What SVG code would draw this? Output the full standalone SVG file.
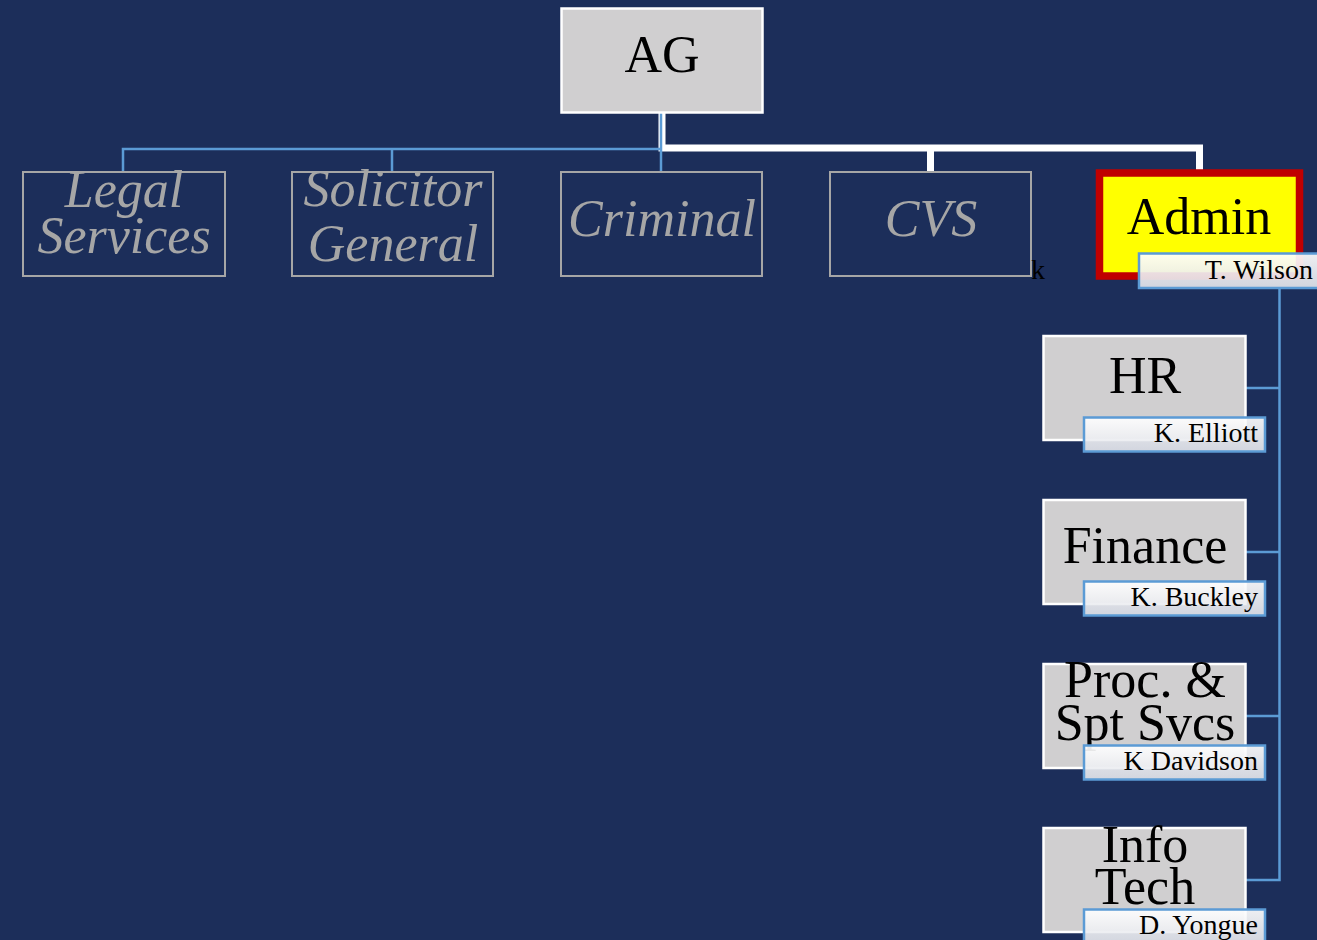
<svg xmlns="http://www.w3.org/2000/svg" width="1317" height="940" viewBox="0 0 1317 940">
  <defs>
    <linearGradient id="tagFill" x1="0" y1="0" x2="0" y2="1">
      <stop offset="0" stop-color="#ffffff" stop-opacity="0.92"/>
      <stop offset="1" stop-color="#e2e4ea" stop-opacity="0.92"/>
    </linearGradient>
    <style>
      .solid { fill: #d0cfd0; stroke: #ffffff; stroke-width: 2.5; }
      .ghost { fill: none; stroke: #a6a6a6; stroke-width: 2; }
      .ghostText { font-family: "Liberation Serif", "Times New Roman", serif; font-style: italic; font-size: 52px; fill: #a6a6a6; text-anchor: middle; }
      .name { font-family: "Liberation Serif", "Times New Roman", serif; font-size: 52px; fill: #000000; text-anchor: middle; }
      .tag { fill: url(#tagFill); stroke: #5b9bd5; stroke-width: 2.5; }
      .tagText { font-family: "Liberation Serif", "Times New Roman", serif; font-size: 28px; fill: #000000; text-anchor: end; }
      .thin { fill: none; stroke: #5b9bd5; stroke-width: 2.5; }
      .thick { fill: none; stroke: #ffffff; stroke-width: 7; stroke-linejoin: miter; }
    </style>
  </defs>

  <rect width="1317" height="940" fill="#1c2e5a"/>

  <!-- connectors -->
  <g id="connectors">
    <path class="thick" d="M662 113 V148 H1199.5 V170"/>
    <path class="thick" d="M930.5 148 V172"/>
    <path class="thin" d="M661 113 V172"/>
    <path class="thin" d="M661 149 H123 V172"/>
    <path class="thin" d="M392 149 V172"/>
    <path class="thin" d="M1279.5 288 V880 H1246"/>
    <path class="thin" d="M1246 388 H1279.5"/>
    <path class="thin" d="M1246 552 H1279.5"/>
    <path class="thin" d="M1246 716 H1279.5"/>
  </g>

  <!-- top -->
  <g id="node-ag">
    <rect class="solid" x="561.5" y="8.5" width="201" height="104"/>
    <text class="name" x="662" y="72">AG</text>
  </g>

  <!-- second level -->
  <g id="node-legal">
    <rect class="ghost" x="23" y="172" width="202" height="104"/>
    <text class="ghostText" x="124" y="207">Legal</text>
    <text class="ghostText" x="124" y="253">Services</text>
  </g>
  <g id="node-solicitor">
    <rect class="ghost" x="292" y="172" width="201" height="104"/>
    <text class="ghostText" x="393" y="206">Solicitor</text>
    <text class="ghostText" x="393" y="261">General</text>
  </g>
  <g id="node-criminal">
    <rect class="ghost" x="561" y="172" width="201" height="104"/>
    <text class="ghostText" x="662" y="236">Criminal</text>
  </g>
  <g id="node-cvs">
    <rect class="ghost" x="830" y="172" width="201" height="104"/>
    <text class="ghostText" x="931" y="236">CVS</text>
  </g>
  <text class="tagText" x="1045" y="279">k</text>

  <g id="node-admin">
    <rect x="1099.5" y="173" width="200" height="103" fill="#ffff00" stroke="#c00000" stroke-width="7.5"/>
    <text class="name" x="1199" y="234">Admin</text>
    <rect class="tag" x="1139" y="253.5" width="183" height="34.5"/>
    <text class="tagText" x="1313" y="279">T. Wilson</text>
  </g>

  <!-- admin units -->
  <g id="node-hr">
    <rect class="solid" x="1043.5" y="336" width="202" height="104"/>
    <text class="name" x="1145" y="393">HR</text>
    <rect class="tag" x="1084" y="417.5" width="181" height="34"/>
    <text class="tagText" x="1258" y="442">K. Elliott</text>
  </g>
  <g id="node-finance">
    <rect class="solid" x="1043.5" y="500" width="202" height="104"/>
    <text class="name" x="1145" y="563">Finance</text>
    <rect class="tag" x="1084" y="581.5" width="181" height="34"/>
    <text class="tagText" x="1258" y="606">K. Buckley</text>
  </g>
  <g id="node-proc">
    <rect class="solid" x="1043.5" y="664" width="202" height="104"/>
    <text class="name" x="1145" y="697">Proc. &amp;</text>
    <text class="name" x="1145" y="740">Spt Svcs</text>
    <rect class="tag" x="1084" y="745.5" width="181" height="34"/>
    <text class="tagText" x="1258" y="770">K Davidson</text>
  </g>
  <g id="node-it">
    <rect class="solid" x="1043.5" y="828" width="202" height="104"/>
    <text class="name" x="1145" y="862">Info</text>
    <text class="name" x="1145" y="904">Tech</text>
    <rect class="tag" x="1084" y="909.5" width="181" height="34"/>
    <text class="tagText" x="1258" y="934">D. Yongue</text>
  </g>
</svg>
